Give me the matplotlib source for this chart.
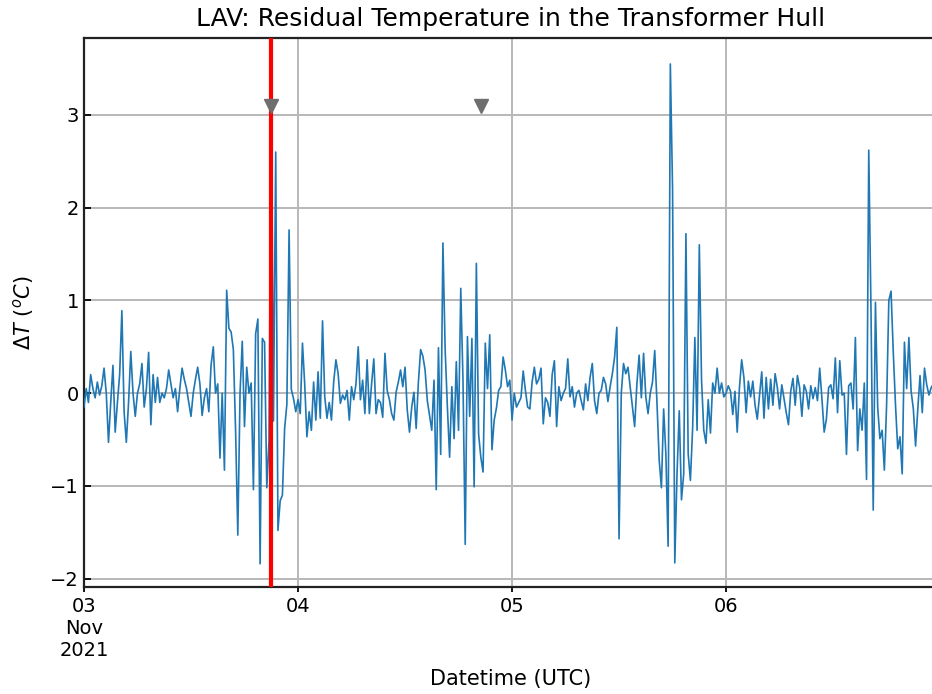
import matplotlib
matplotlib.use("Agg")
import matplotlib.pyplot as plt
import pandas as pd

# Residual temperature (deg C), 15-minute samples starting 2021-11-03 00:00 UTC
residual_nov03 = [
    -0.15, 0.05, -0.1, 0.2,
    0.05, -0.05, 0.12, -0.02,
    0.08, 0.27, 0.0, -0.53,
    -0.1, 0.3, -0.42, -0.1,
    0.2, 0.89, -0.2, -0.53,
    -0.1, 0.45, 0.0, -0.25,
    0.0, 0.1, 0.32, -0.15,
    0.05, 0.44, -0.34, 0.2,
    -0.1, 0.17, -0.1, 0.0,
    -0.05, 0.05, 0.25, 0.1,
    -0.05, 0.05, -0.2, 0.05,
    0.27, 0.15, 0.05, -0.1,
    -0.25, 0.0, 0.15, 0.28,
    0.1, -0.24, -0.05, 0.05,
    -0.2, 0.3, 0.5, 0.0,
    0.1, -0.7, 0.0, -0.83,
    1.11, 0.7, 0.66, 0.47,
    -0.4, -1.53, 0.0, 0.56,
    -0.36, 0.28, 0.0, 0.11,
    -1.04, 0.64, 0.8, -1.84,
    0.59, 0.55, -1.02, -0.51,
    3.38, -0.3, 2.6, -1.48,
    -1.16, -1.1, -0.38, -0.12,
    1.76, 0.04, -0.06, -0.2,
]
residual_nov04 = [
    -0.07, -0.22, 0.54, 0.1,
    -0.47, -0.2, -0.4, 0.12,
    -0.29, 0.23, -0.27, 0.78,
    -0.04, -0.27, -0.1, -0.29,
    0.12, 0.36, 0.21, -0.11,
    -0.02, -0.07, 0.03, -0.29,
    0.07, -0.07, 0.1, 0.5,
    -0.07, 0.14, -0.22, 0.36,
    -0.22, 0.1, 0.37, -0.22,
    -0.07, -0.1, -0.26, 0.43,
    0.03, -0.07, -0.22, -0.29,
    0.01, 0.12, 0.25, 0.07,
    0.28, -0.18, -0.42, -0.15,
    0.01, -0.38, 0.12, 0.47,
    0.4, 0.25, -0.08, -0.24,
    -0.4, 0.14, -1.04, 0.49,
    -0.66, 1.62, 0.47, -0.15,
    -0.69, 0.07, -0.49, 0.34,
    -0.4, 1.13, 0.14, -1.63,
    0.61, -0.25, 0.59, -1.01,
    1.4, -0.44, -0.69, -0.85,
    0.54, 0.05, 0.63, -0.61,
    -0.29, -0.16, 0.03, 0.07,
    0.39, 0.25, 0.07, 0.14,
]
residual_nov05 = [
    -0.29, 0.0, -0.15, -0.1,
    -0.05, 0.24, 0.03, -0.15,
    -0.17, 0.12, 0.28, 0.1,
    0.15, 0.27, -0.33, -0.05,
    -0.1, -0.25, 0.2, 0.35,
    -0.36, 0.07, -0.08, 0.0,
    0.05, 0.37, -0.04, 0.07,
    -0.15, 0.0, 0.03, -0.08,
    -0.18, 0.1, -0.08, 0.17,
    0.32, -0.08, -0.22, 0.0,
    0.03, 0.17, 0.1, -0.09,
    0.07, 0.21, 0.39, 0.71,
    -1.57, 0.0, 0.32, 0.21,
    0.28, 0.07, -0.15, -0.36,
    0.1, 0.41, -0.05, 0.43,
    -0.04, -0.22, 0.0, 0.12,
    0.46, -0.1, -0.72, -1.02,
    -0.17, -0.66, -1.65, 3.55,
    2.2, -1.83, -0.87, -0.19,
    -1.15, -0.87, 1.72, -0.65,
    -0.94, -0.38, 0.6, -0.4,
    1.6, 0.14, -0.4, -0.54,
    -0.07, -0.43, 0.11, 0.0,
    0.27, 0.0, 0.11, -0.04,
]
residual_nov06 = [
    0.0, 0.08, 0.02, -0.23,
    0.02, -0.42, 0.06, 0.36,
    0.17, -0.21, 0.13, -0.04,
    0.13, -0.13, -0.28, -0.02,
    0.23, -0.27, 0.17, -0.17,
    0.15, -0.13, 0.21, 0.06,
    -0.17, 0.09, -0.06, -0.21,
    -0.34, 0.02, 0.16, -0.13,
    0.19, 0.06, -0.25, 0.09,
    0.02, -0.17, 0.08, -0.06,
    0.06, -0.08, 0.27, -0.06,
    -0.42, -0.28, 0.06, 0.09,
    -0.06, 0.38, -0.21, 0.35,
    -0.02, 0.0, -0.66, 0.08,
    0.11, -0.17, 0.6, -0.62,
    -0.17, -0.4, 0.11, -0.93,
    2.62, 0.9, -1.26, 0.98,
    -0.15, -0.49, -0.4, -0.83,
    -0.13, 1.0, 1.1, 0.44,
    -0.13, -0.6, -0.47, -0.87,
    0.55, 0.05, 0.6, 0.02,
    -0.17, -0.57, -0.17, 0.19,
    -0.21, 0.27, 0.09, -0.02,
    0.06, 0.1, -0.05, 0.05,
]

series_start = "2021-11-03 00:00"
sample_freq = "15min"

# Event annotations
event_time = "2021-11-03 21:00"
marker_times = ["2021-11-03 21:00", "2021-11-04 20:30"]
marker_values = [3.1, 3.1]

# Axis ticks
day_ticks = ["2021-11-03", "2021-11-04", "2021-11-05", "2021-11-06"]
day_tick_labels = ["03\nNov\n2021", "04", "05", "06"]
y_ticks = [-2, -1, 0, 1, 2, 3]

residual = residual_nov03 + residual_nov04 + residual_nov05 + residual_nov06
times = pd.date_range(series_start, periods=len(residual), freq=sample_freq)

fig = plt.figure(figsize=(9.32, 6.94), dpi=100)
ax = fig.add_axes([0.0901, 0.1542, 0.9162, 0.7910])

ax.plot(times, residual, color="#1f77b4", linewidth=1.2, zorder=3)
ax.axvline(pd.Timestamp(event_time), color="red", linewidth=3, zorder=4)
ax.plot(pd.to_datetime(marker_times), marker_values, linestyle="none",
        marker="v", markersize=10, color="#6e6e6e", zorder=5)

ax.set_xlim(times[0], times[-1])
ax.set_ylim(-2.09, 3.83)

ax.set_xticks(pd.to_datetime(day_ticks))
ax.set_xticklabels(day_tick_labels)
ax.set_yticks(y_ticks)
ax.set_yticklabels(["\u22122", "\u22121", "0", "1", "2", "3"])

ax.grid(True, color="#b8b8b8", linewidth=1.4)
ax.set_axisbelow(True)
ax.tick_params(axis="both", labelsize=14, width=1.3)
ax.tick_params(axis="y", direction="in", length=5)
ax.tick_params(axis="x", direction="out", length=3.5)
for side in ax.spines.values():
    side.set_linewidth(1.6)
    side.set_color("#222222")

ax.set_title("LAV: Residual Temperature in the Transformer Hull", fontsize=18, pad=9)
ax.set_xlabel("Datetime (UTC)", fontsize=15, labelpad=7)
ax.set_ylabel(r"$\Delta T$ ($^oC$)", fontsize=15, labelpad=10)

fig.savefig("out.png", dpi=100)
